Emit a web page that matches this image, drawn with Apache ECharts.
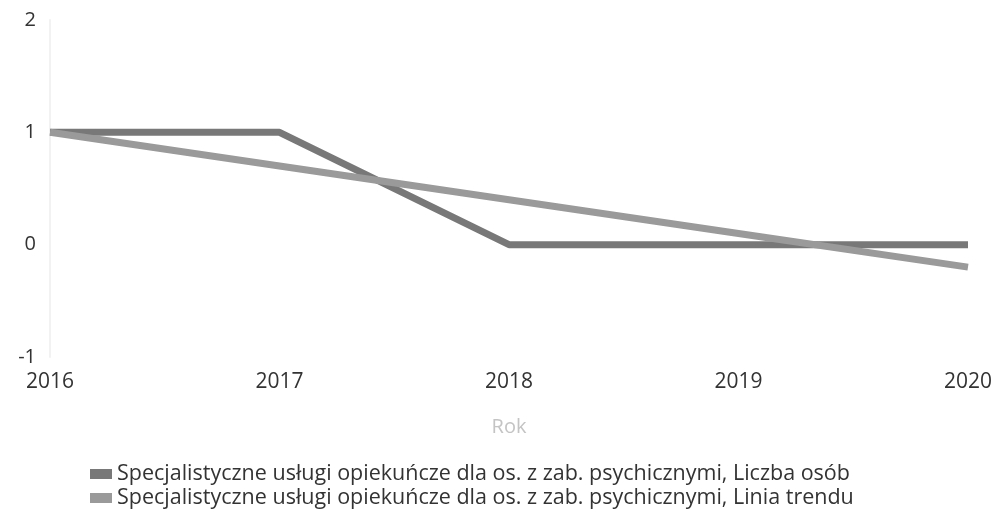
<!DOCTYPE html>
<html>
<head>
<meta charset="utf-8">
<script src="https://cdn.jsdelivr.net/npm/echarts@6/dist/echarts.min.js"></script>
<style>
html,body{margin:0;padding:0;background:#fff;}
#chart{width:997px;height:515px;}
</style>
</head>
<body>
<div id="chart"></div>
<script>
// dane wykresu
let years = ['2016','2017','2018','2019','2020']
let liczbaOsob = [1, 1, 0, 0, 0]
let liniaTrendu = [1, 0.7, 0.4, 0.1, -0.2]
let seriesNames = [
    'Specjalistyczne usługi opiekuńcze dla os. z zab. psychicznymi, Liczba osób',
    'Specjalistyczne usługi opiekuńcze dla os. z zab. psychicznymi, Linia trendu'
]

function drawChart(){
    let box = document.querySelector("#chart")
    let myChart = echarts.init(box)
    let option = {
        animation:false,
        textStyle:{
            fontFamily:'Open Sans'
        },
        grid:{
            left:50,
            right:29,
            top:20,
            bottom:158
        },
        legend:{
            orient:'vertical',
            left:90,
            top:463,
            height:120,
            padding:0,
            itemWidth:22,
            itemHeight:10,
            itemGap:2,
            icon:'rect',
            textStyle:{
                color:'#333',
                fontSize:21.5,
                lineHeight:22,
                fontFamily:'Open Sans'
            },
            data:seriesNames
        },
        xAxis:{
            type:'category',
            boundaryGap:false,
            data:years,
            name:'Rok',
            nameLocation:'middle',
            nameGap:60,
            nameTextStyle:{
                color:'#c4c4c4',
                fontSize:20
            },
            axisLine:{show:false},
            axisTick:{show:false},
            axisLabel:{
                color:'#333',
                fontSize:21,
                margin:15
            }
        },
        yAxis:{
            type:'value',
            min:-1,
            max:2,
            interval:1,
            axisLine:{
                show:true,
                lineStyle:{color:'#f2f2f2',width:2}
            },
            axisTick:{show:false},
            splitLine:{show:false},
            axisLabel:{
                color:'#333',
                fontSize:20,
                margin:14
            }
        },
        series:[
            {
                name:seriesNames[0],
                type:'line',
                data:liczbaOsob,
                showSymbol:false,
                color:'#787878',
                lineStyle:{width:7,color:'#787878'}
            },
            {
                name:seriesNames[1],
                type:'line',
                data:liniaTrendu,
                showSymbol:false,
                color:'#9a9a9a',
                lineStyle:{width:7,color:'#9a9a9a'}
            }
        ]
    }
    myChart.setOption(option)
}
drawChart()
</script>
</body>
</html>
